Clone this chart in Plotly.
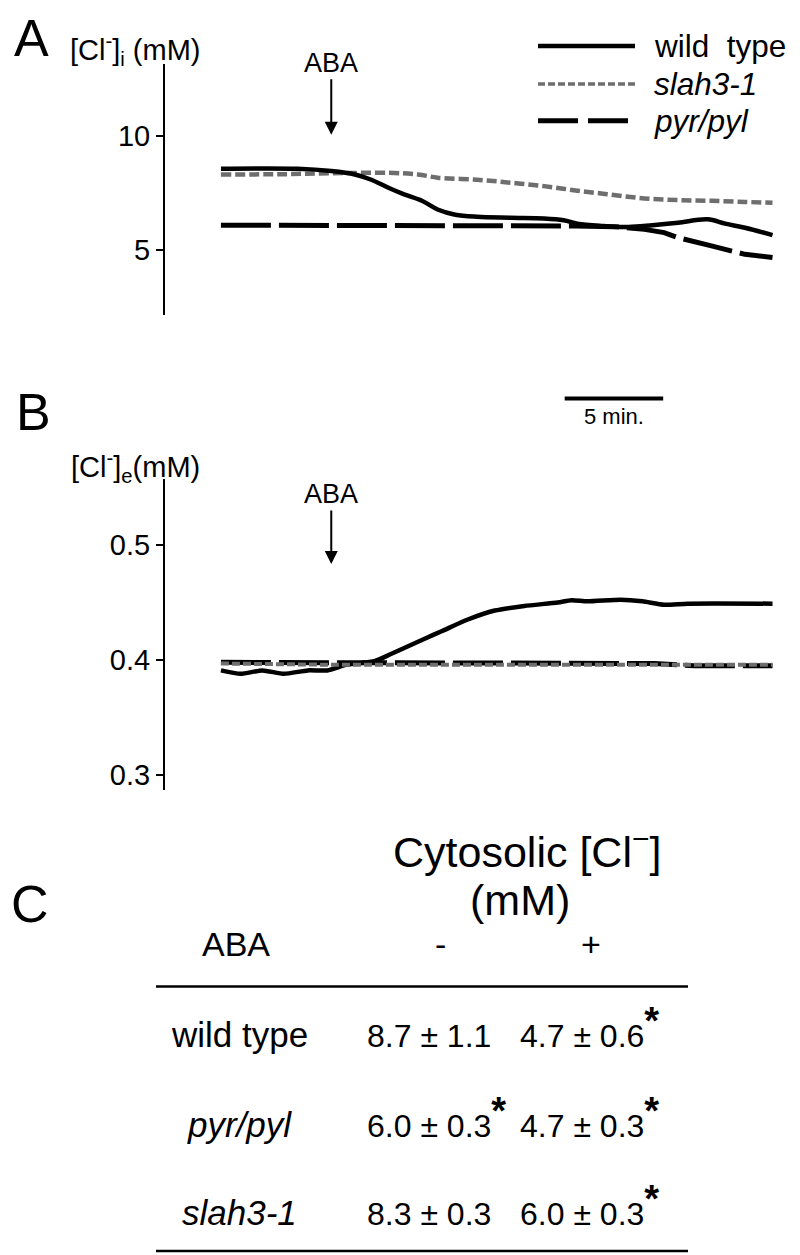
import plotly.graph_objects as go

# ---- panel A: cytosolic [Cl-] (mM) against time (min) ----
wt_a_t = [0.0, 3.9, 5.6, 6.8, 7.6, 8.5, 9.3, 10.2, 11.0, 11.9, 13.0, 14.7, 16.4,
          17.4, 18.1, 19.4, 20.7, 21.9, 23.2, 24.7, 25.6, 26.6, 28.0]
wt_a_v = [8.55, 8.55, 8.45, 8.30, 8.08, 7.72, 7.43, 7.15, 6.77, 6.54, 6.45, 6.41, 6.38,
          6.30, 6.15, 6.05, 6.00, 6.08, 6.19, 6.34, 6.15, 5.97, 5.65]
slah_a_t = [0.0, 3.0, 5.6, 8.5, 10.0, 11.0, 13.0, 14.7, 16.4, 18.1, 19.8, 21.5,
            23.2, 24.9, 26.6, 28.0]
slah_a_v = [8.30, 8.31, 8.35, 8.37, 8.30, 8.16, 8.07, 7.94, 7.79, 7.59, 7.42, 7.25,
            7.18, 7.15, 7.10, 7.06]
pyr_a_t = [0.0, 5.0, 10.0, 15.0, 18.0, 20.0, 21.5, 22.5, 23.2, 24.9, 26.6, 28.0]
pyr_a_v = [6.08, 6.08, 6.06, 6.05, 6.05, 6.02, 5.90, 5.76, 5.54, 5.18, 4.81, 4.67]

# ---- panel B: extracellular [Cl-] (mM) ----
wt_b_t = [0.0, 1.0, 2.1, 3.2, 4.4, 5.4, 6.4, 7.8, 8.6, 9.5, 10.4, 11.2, 12.5, 13.9,
          15.4, 17.1, 17.8, 18.6, 20.3, 21.4, 22.5, 23.7, 28.0]
wt_b_v = [0.391, 0.388, 0.391, 0.388, 0.391, 0.391, 0.396, 0.399, 0.405, 0.412, 0.419,
          0.425, 0.435, 0.443, 0.447, 0.450, 0.452, 0.451, 0.4525, 0.451, 0.448,
          0.449, 0.449]
slah_b_t = [0.0, 5.0, 10.0, 15.0, 20.0, 25.0, 28.0]
slah_b_v = [0.397, 0.396, 0.396, 0.396, 0.396, 0.396, 0.396]
pyr_b_t = [0.0, 8.0, 15.0, 22.0, 24.0, 28.0]
pyr_b_v = [0.398, 0.398, 0.398, 0.397, 0.395, 0.395]

aba_time = 5.6
scalebar_start = 17.45
scalebar_len = 5

# ---- panel C: table ----
genotypes = ["wild type", "<i>pyr/pyl</i>", "<i>slah3-1</i>"]
minus_mean = [8.7, 6.0, 8.3]
minus_sem = [1.1, 0.3, 0.3]
minus_sig = [False, True, False]
plus_mean = [4.7, 4.7, 6.0]
plus_sem = [0.6, 0.3, 0.3]
plus_sig = [True, True, True]

W, H = 800, 1255


def px(x):
    return x / W


def py(y):
    return 1 - y / H


FONT = "Liberation Sans, Arial, sans-serif"
GRAY = "#6e6e6e"

fig = go.Figure()

styles = {
    "wt": dict(color="black", width=4.5),
    "slah": dict(color=GRAY, width=4.5, dash="10px,4px"),
    "pyr": dict(color="black", width=5, dash="50px,8px"),
}

# panel A traces
fig.add_trace(go.Scatter(x=pyr_a_t, y=pyr_a_v, mode="lines", line=styles["pyr"],
                         xaxis="x", yaxis="y", showlegend=False))
fig.add_trace(go.Scatter(x=slah_a_t, y=slah_a_v, mode="lines", line=styles["slah"],
                         line_shape="spline", xaxis="x", yaxis="y", showlegend=False))
fig.add_trace(go.Scatter(x=wt_a_t, y=wt_a_v, mode="lines", line=styles["wt"],
                         line_shape="spline", xaxis="x", yaxis="y", showlegend=False))

# panel B traces
fig.add_trace(go.Scatter(x=wt_b_t, y=wt_b_v, mode="lines", line=styles["wt"],
                         line_shape="spline", line_smoothing=0.6,
                         xaxis="x2", yaxis="y2", showlegend=False))
fig.add_trace(go.Scatter(x=pyr_b_t, y=pyr_b_v, mode="lines", line=styles["pyr"],
                         xaxis="x2", yaxis="y2", showlegend=False))
fig.add_trace(go.Scatter(x=slah_b_t, y=slah_b_v, mode="lines",
                         line=dict(color=GRAY, width=4, dash="8px,3px"),
                         xaxis="x2", yaxis="y2", showlegend=False))

xdom = [px(157), px(785)]
xrange_ = [-2.84, 29.04]
yaxis_common = dict(showline=True, linecolor="black", linewidth=2, ticks="outside",
                    ticklen=7, tickwidth=2, tickcolor="black", showgrid=False,
                    zeroline=False, tickfont=dict(family=FONT, size=29, color="black"),
                    fixedrange=True)

fig.update_layout(
    width=W, height=H,
    margin=dict(l=0, r=0, t=0, b=0),
    paper_bgcolor="white", plot_bgcolor="white",
    xaxis=dict(domain=xdom, range=xrange_, visible=False, anchor="y"),
    yaxis=dict(domain=[py(307), py(56)], range=[2.18, 13.13], tickvals=[5, 10],
               anchor="x", **yaxis_common),
    xaxis2=dict(domain=xdom, range=xrange_, visible=False, anchor="y2"),
    yaxis2=dict(domain=[py(783), py(472)], range=[0.2873, 0.5571],
                tickvals=[0.3, 0.4, 0.5], ticktext=["0.3", "0.4", "0.5"],
                anchor="x2", **yaxis_common),
)

ann = []
shapes = []


def text(x, y, s, size=28, xanchor="center", **kw):
    ann.append(dict(x=px(x), y=py(y), xref="paper", yref="paper", text=s,
                    showarrow=False, xanchor=xanchor, yanchor="middle",
                    font=dict(family=FONT, size=size, color="black"), **kw))


# panel letters
text(23, 30, "A", size=52)
text(25, 405, "B", size=52)
text(22, 897, "C", size=52)

# axis titles
text(127, 42, "[Cl<sup>-</sup>]<sub>i</sub> (mM)", size=29)
text(127, 460, "[Cl<sup>-</sup>]<sub>e</sub>(mM)", size=29)

# ABA arrows
for xr, ytip, ay in [("x", 127, -72), ("x2", 557, -70)]:
    ann.append(dict(x=aba_time, y=py(ytip), xref=xr, yref="paper", text="ABA",
                    showarrow=True, ax=0, ay=ay, arrowhead=2, arrowsize=1.3,
                    arrowwidth=2, arrowcolor="black",
                    font=dict(family=FONT, size=27, color="black")))

# legend drawn by hand
legend_items = [("wild&nbsp;&nbsp;type", "wt", 38), ("<i>slah3-1</i>", "slah", 76),
                ("<i>pyr/pyl</i>", "pyr", 113)]
for label, key, yy in legend_items:
    st = dict(styles[key])
    if key == "pyr":
        st["dash"] = "40px,10px"
    if key == "slah":
        st["width"] = 3.5
        st["dash"] = "7px,3px"
    shapes.append(dict(type="line", xref="paper", yref="paper", x0=px(530), x1=px(627),
                       y0=py(yy), y1=py(yy), line=st))
    text(644, yy, label, size=31.5, xanchor="left")

# scale bar
shapes.append(dict(type="line", xref="x2", yref="paper", x0=scalebar_start,
                   x1=scalebar_start + scalebar_len, y0=py(391), y1=py(391),
                   line=dict(color="black", width=4)))
ann.append(dict(x=scalebar_start + scalebar_len / 2, y=py(409), xref="x2", yref="paper",
                text=f"{scalebar_len} min.", showarrow=False, yanchor="middle",
                font=dict(family=FONT, size=22, color="black")))

# panel C table
text(519, 842, "Cytosolic [Cl<sup>−</sup>]", size=43)
text(512, 893, "(mM)", size=43)
text(228, 937, "ABA", size=34)
text(432, 937, "-", size=34)
text(583, 937, "+", size=34)
for yy in (980, 1245):
    shapes.append(dict(type="line", xref="paper", yref="paper", x0=px(148), x1=px(680),
                       y0=py(yy), y1=py(yy), line=dict(color="black", width=2.5)))


def star(sig):
    colour = "black" if sig else "white"
    return f'<sup><span style="font-size:38px;color:{colour}"><b>*</b></span></sup>'


row_y = [1028, 1118, 1206]
for i, g in enumerate(genotypes):
    text(232, row_y[i], g, size=35)
    s1 = f"{minus_mean[i]:.1f} ± {minus_sem[i]:.1f}" + star(minus_sig[i])
    s2 = f"{plus_mean[i]:.1f} ± {plus_sem[i]:.1f}" + star(plus_sig[i])
    text(357, row_y[i] - 7, s1, size=32, xanchor="left")
    text(510, row_y[i] - 7, s2, size=32, xanchor="left")

fig.update_layout(annotations=ann, shapes=shapes)
fig.write_html("out.html")
